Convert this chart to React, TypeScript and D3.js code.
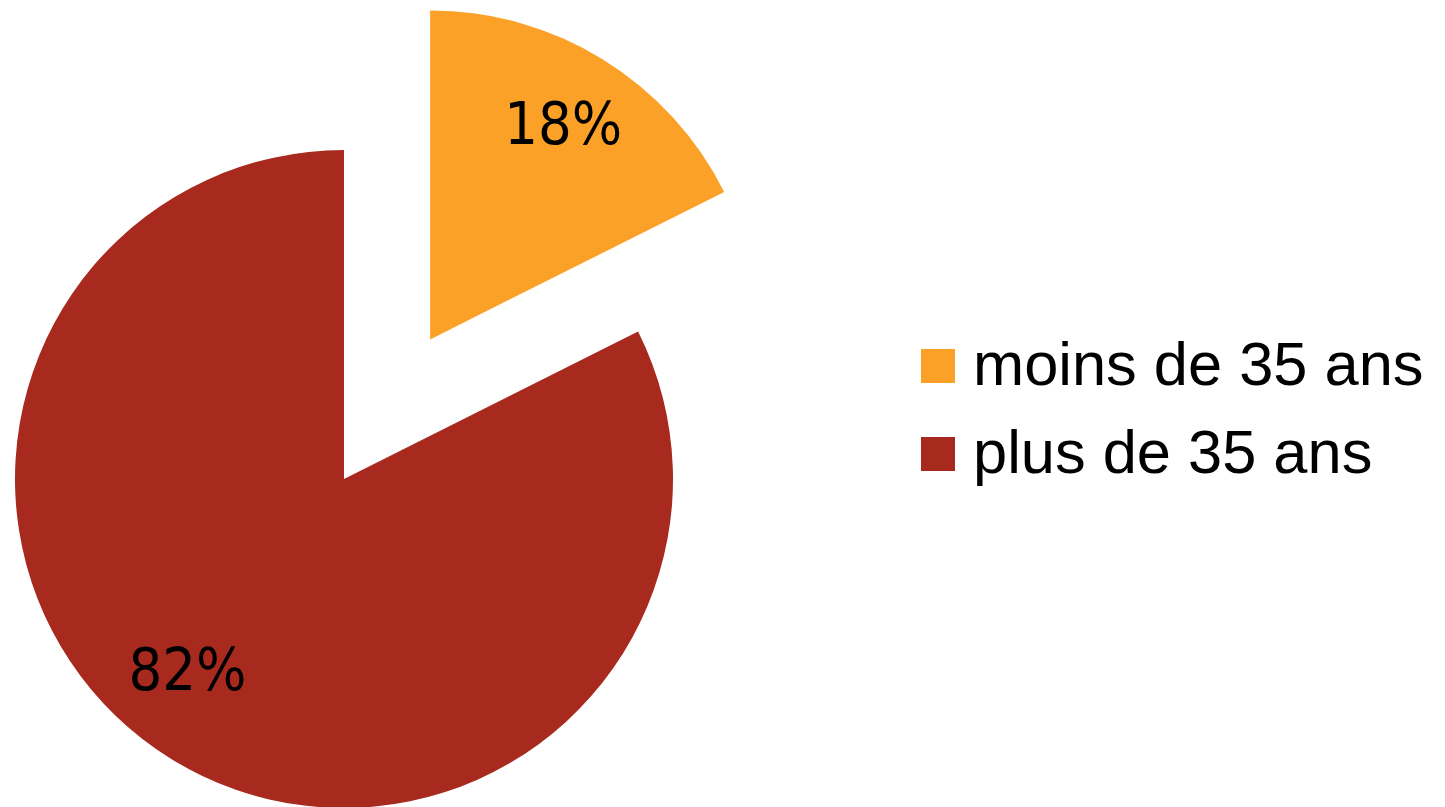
import React from "react";
import * as d3 from "d3";

const categories = ["moins de 35 ans", "plus de 35 ans"];
const values = [17.6, 82.4];
const labels = ["18%", "82%"];
const colors = ["#FCA127", "#A8291E"];

const explode = [164, 0];
const labelRadiusFrac = [0.77, 0.75];
const labelAngleShiftDeg = [0, 7.7];

export default function App() {
  const W = 1445, H = 807;
  const cx = 344, cy = 479, r = 329;
  const pie = d3.pie<number>().sort(null).value((d) => d);
  const arcs = pie(values);
  const arc = d3.arc<d3.PieArcDatum<number>>().innerRadius(0).outerRadius(r);

  return (
    <svg width={W} height={H} style={{ position: "absolute", left: 0, top: 0, display: "block" }}>
      <rect width={W} height={H} fill="#fff" />
      {arcs.map((a, i) => {
        const mid = (a.startAngle + a.endAngle) / 2;
        const dx = Math.sin(mid) * explode[i];
        const dy = -Math.cos(mid) * explode[i];
        const la = mid + (labelAngleShiftDeg[i] * Math.PI) / 180;
        const lr = r * labelRadiusFrac[i];
        const lx = Math.sin(la) * lr;
        const ly = -Math.cos(la) * lr;
        return (
          <g key={i} transform={`translate(${cx + dx},${cy + dy})`}>
            <path d={arc(a) || ""} fill={colors[i]} />
            <text
              x={lx}
              y={ly}
              textAnchor="middle"
              dominantBaseline="central"
              fontFamily="'DejaVu Sans Condensed', 'DejaVu Sans', sans-serif"
              fontSize={59}
              fill="#000"
            >
              {labels[i]}
            </text>
          </g>
        );
      })}
      {categories.map((c, i) => (
        <g key={c} transform={`translate(921,${349 + i * 88})`}>
          <rect width={34} height={34} fill={colors[i]} />
          <text x={52} y={36} fontFamily="'Liberation Sans', Arial, sans-serif" fontSize={61.4} fill="#000">
            {c}
          </text>
        </g>
      ))}
    </svg>
  );
}
